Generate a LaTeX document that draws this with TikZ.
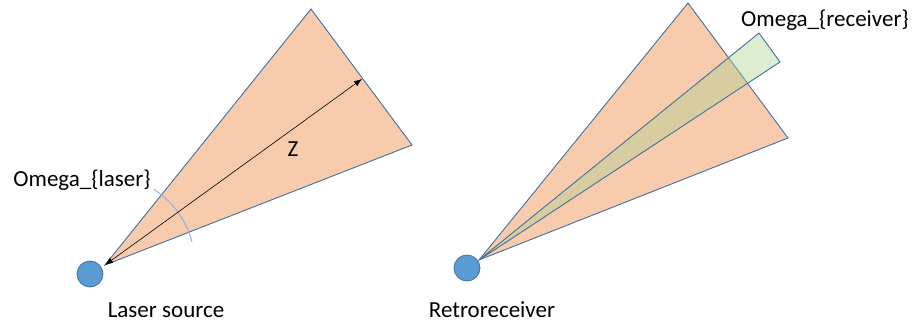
\documentclass[tikz,border=0pt]{standalone}
\usepackage{fontspec}
\setmainfont{Carlito}
\usetikzlibrary{arrows.meta, positioning}
\definecolor{beamOrange}{HTML}{F8CBAD}
\definecolor{edgeBlue}{HTML}{41719C}
\definecolor{dotBlue}{HTML}{5B9BD5}
\definecolor{rxGreen}{HTML}{A9D18E}
\definecolor{arcBlue}{HTML}{8FB4DC}

\begin{document}
\begin{tikzpicture}[x=1pt,y=-1pt,
    every node/.style={font=\fontsize{23}{27}\selectfont},
    dot/.style={circle,draw=edgeBlue,fill=dotBlue,line width=0.8pt,
      minimum size=26pt,inner sep=0pt},
    cone/.style={draw=edgeBlue,fill=beamOrange,line width=0.9pt},
    strip/.style={draw=edgeBlue,fill=rxGreen,fill opacity=0.4,line width=0.9pt},
    dist/.style={{Latex[length=8pt,width=6pt]}-{Latex[length=8pt,width=6pt]},line width=0.6pt}]
  \useasboundingbox (0,0) rectangle (914,326);
  % laser side
  \node[dot] (src) at (90,274) {};
  \coordinate (apexL) at (105,265);
  \coordinate (topL) at (311,9);
  \coordinate (rightL) at (412,145);
  \draw[cone] (apexL) -- (topL) -- (rightL) -- cycle;
  \draw[arcBlue,line width=1pt] ([shift={(-57:90)}]apexL) arc[start angle=-57,end angle=-15,radius=90];
  \coordinate (zEnd) at (362,79);
  \draw[dist] (apexL) -- (zEnd);
  \node (zlab) at (293,149) {Z};
  \node (omL) at (82,180) {Omega\_\{laser\}};
  \node (labL) at (166,310) {Laser source};
  % receiver side
  \node[dot] (rx) at (467,268) {};
  \coordinate (apexR) at (479,260);
  \coordinate (topR) at (688,3);
  \coordinate (rightR) at (788,138);
  \draw[cone] (apexR) -- (topR) -- (rightR) -- cycle;
  \coordinate (stripA) at (759,33);
  \coordinate (stripB) at (780,62);
  \draw[strip] (apexR) -- (stripA) -- (stripB) -- cycle;
  \node (omR) at (825,20) {Omega\_\{receiver\}};
  \node (labR) at (492,310) {Retroreceiver};
\end{tikzpicture}
\end{document}
